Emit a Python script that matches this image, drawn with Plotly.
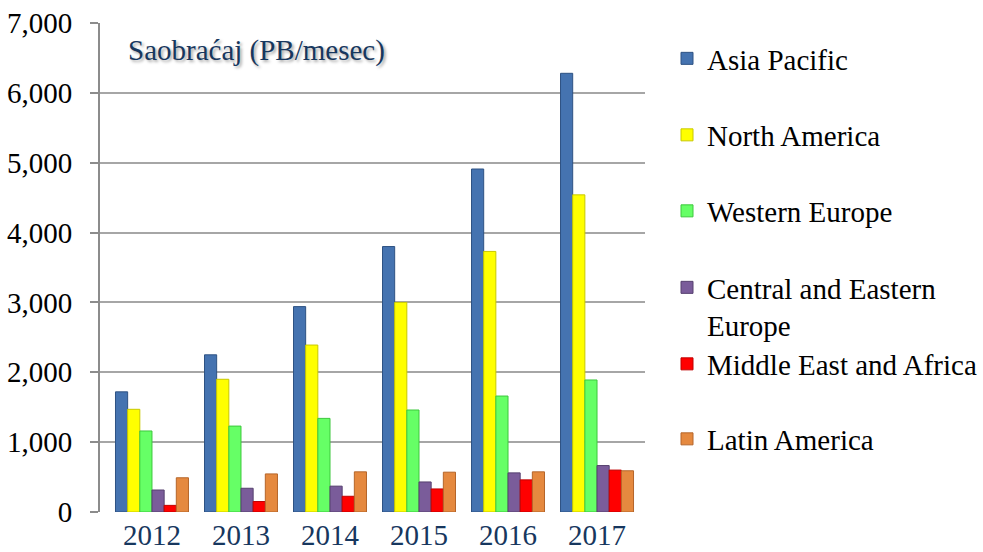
import plotly.graph_objects as go

years = ["2012", "2013", "2014", "2015", "2016", "2017"]
asia_pacific = [1720, 2250, 2940, 3800, 4910, 6280]
north_america = [1470, 1900, 2390, 3000, 3730, 4540]
western_europe = [1160, 1230, 1340, 1460, 1660, 1890]
central_eastern_europe = [315, 340, 370, 430, 560, 665]
middle_east_africa = [95, 150, 225, 330, 460, 600]
latin_america = [490, 545, 575, 570, 575, 590]

series_names = ["Asia Pacific", "North America", "Western Europe",
                "Central and Eastern<br>Europe", "Middle East and Africa", "Latin America"]
series_values = [asia_pacific, north_america, western_europe,
                 central_eastern_europe, middle_east_africa, latin_america]
colors = ["#4573B0", "#FFFF00", "#66FF66", "#7A5C9A", "#FF0000", "#E5893F"]
edges = ["#2E5283", "#C8C800", "#3CC83C", "#56406F", "#C00000", "#B5652A"]

y_ticks = [0, 1000, 2000, 3000, 4000, 5000, 6000, 7000]

FONT = "Liberation Serif, Times New Roman, serif"

fig = go.Figure()
legend_ids = ["legend", "legend2", "legend3", "legend4", "legend5", "legend6"]
for name, vals, c, e, lg in zip(series_names, series_values, colors, edges, legend_ids):
    fig.add_trace(go.Bar(x=years, y=vals, name=name, legend=lg,
                         marker=dict(color=c, line=dict(color=e, width=1))))

W, H = 983, 552
L, R, T, B = 100, 338, 23, 40
pw = W - L - R
ph = H - T - B

def px_to_py(py):
    return (H - B - py) / ph

def px_to_px(px):
    return (px - L) / pw

legend_centers = [58.5, 135, 211, None, 364, 439]
layout_legends = {}
for i, lg in enumerate(legend_ids):
    d = dict(x=px_to_px(667), xanchor="left", bgcolor="rgba(0,0,0,0)",
             font=dict(family=FONT, size=29, color="#000000"),
             itemclick=False, itemdoubleclick=False)
    if legend_centers[i] is None:
        d.update(y=px_to_py(262), yanchor="top", valign="top")
    else:
        d.update(y=px_to_py(legend_centers[i]), yanchor="middle")
    layout_legends[lg] = d

fig.update_layout(
    width=W, height=H,
    margin=dict(l=L, r=R, t=T, b=B, autoexpand=False),
    paper_bgcolor="white", plot_bgcolor="white",
    barmode="group", bargap=0.18, bargroupgap=0.0,
    showlegend=True,
    font=dict(family=FONT, size=29, color="#000000"),
    xaxis=dict(type="category", range=[-0.584, 5.539], showgrid=False,
               showline=False, ticks="", ticklabelstandoff=3,
               tickfont=dict(family=FONT, size=29, color="#17375E")),
    yaxis=dict(range=[0, 7000], tickvals=y_ticks, tickformat=",",
               showgrid=True, gridcolor="#A6A6A6", gridwidth=2,
               showline=True, linecolor="#8C8C8C", linewidth=2,
               ticks="outside", ticklen=8, tickcolor="#8C8C8C", tickwidth=2,
               ticklabelstandoff=12, zeroline=False,
               tickfont=dict(family=FONT, size=29, color="#000000")),
    annotations=[dict(text="Saobraćaj (PB/mesec)", xref="paper", yref="paper",
                      x=px_to_px(126), y=px_to_py(50), xanchor="left", yanchor="middle",
                      showarrow=False,
                      font=dict(family=FONT, size=29, color="#17375E",
                                shadow="2px 2px 3px rgba(0,0,0,0.35)"))],
    **layout_legends,
)

fig.write_html("out.html", config={"displayModeBar": False},
               post_script="document.body.style.margin='0';")
